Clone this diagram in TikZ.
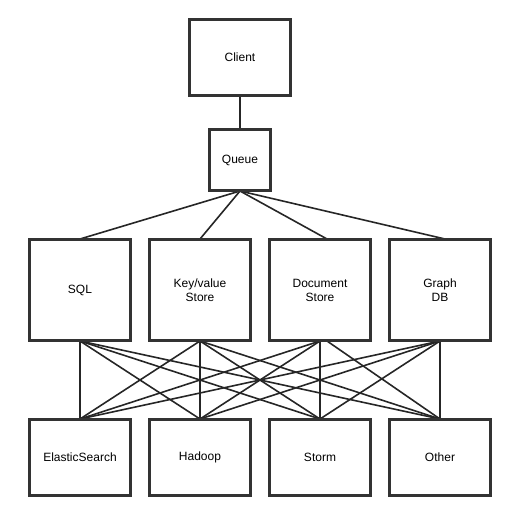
\documentclass[tikz,border=0pt]{standalone}
\usepackage{fontspec}
\setmainfont{Liberation Sans}
\usetikzlibrary{positioning}
\definecolor{edge}{HTML}{333333}
\begin{document}
\begin{tikzpicture}[x=1pt,y=-1pt,
  box/.style={draw=edge,line width=2pt,fill=white,minimum width=100pt,inner sep=0pt,align=center,font=\fontsize{12pt}{14pt}\selectfont},
  link/.style={draw=black!85,line width=1.6pt}]
\useasboundingbox (0,0) rectangle (510,515);
\node[box,minimum height=75pt] (client) at (240,57.5) {Client};
\node[box,minimum width=60pt,minimum height=60pt] (queue) at (240,160) {Queue};
\node[box,minimum height=100pt] (sql) at (80,290) {SQL};
\node[box,minimum height=100pt] (kv) at (200,290) {Key/value\\Store};
\node[box,minimum height=100pt] (doc) at (320,290) {Document\\Store};
\node[box,minimum height=100pt] (graph) at (440,290) {Graph\\DB};
\node[box,minimum height=75pt] (es) at (80,457.5) {ElasticSearch};
\node[box,minimum height=75pt] (hadoop) at (200,457.5) {Hadoop};
\node[box,minimum height=75pt] (storm) at (320,457.5) {Storm};
\node[box,minimum height=75pt] (other) at (440,457.5) {Other};
\begin{scope}[on background layer/.style={}]
\draw[link] (client.south) -- (queue.north);
\draw[link] (queue.south) -- (sql.north);
\draw[link] (queue.south) -- (kv.north);
\draw[link] (queue.south) -- ([xshift=7pt]doc.north);
\draw[link] (queue.south) -- ([xshift=5pt]graph.north);
\foreach \m in {sql,kv,graph}{
  \foreach \b in {es,hadoop,storm,other}{
    \draw[link] (\m.south) -- (\b.north);
  }
}
\foreach \b in {es,hadoop,storm}{
  \draw[link] (doc.south) -- (\b.north);
}
\draw[link] ([xshift=7pt]doc.south) -- (other.north);
\end{scope}
\foreach \n in {client,queue,sql,kv,doc,graph,es,hadoop,storm,other}{
  \draw[edge,line width=2pt] (\n.south west) rectangle (\n.north east);
}
\end{tikzpicture}
\end{document}
